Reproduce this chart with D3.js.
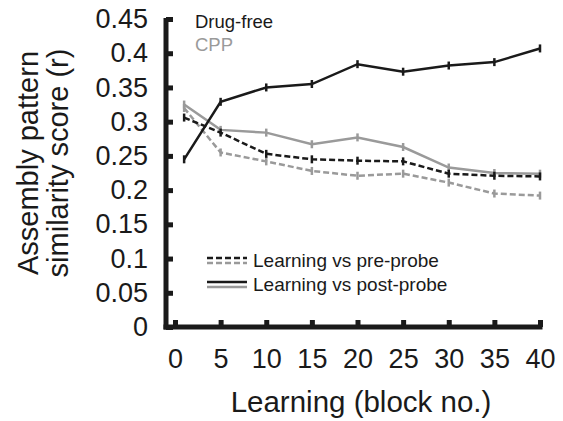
<!DOCTYPE html>
<html>
<head>
<meta charset="utf-8">
<script src="https://cdn.jsdelivr.net/npm/d3@7"></script>
<style>
  body { margin: 0; background: #fff; }
  svg { display: block; font-family: Arial, "Liberation Sans", sans-serif; }
</style>
</head>
<body>
<script>
var width  = 563,
    height = 421;

// data
var blocks = [1, 5, 10, 15, 20, 25, 30, 35, 40];
var drugFreePost = [0.245, 0.329, 0.350, 0.355, 0.384, 0.373, 0.382, 0.387, 0.407];
var drugFreePre  = [0.306, 0.284, 0.253, 0.245, 0.243, 0.242, 0.224, 0.221, 0.220];
var cppPost      = [0.325, 0.288, 0.284, 0.267, 0.277, 0.263, 0.233, 0.225, 0.224];
var cppPre       = [0.320, 0.255, 0.242, 0.228, 0.221, 0.224, 0.211, 0.195, 0.192];
var xTicks = [0, 5, 10, 15, 20, 25, 30, 35, 40];
var yTicks = [0, 0.05, 0.1, 0.15, 0.2, 0.25, 0.3, 0.35, 0.4, 0.45];

var black = '#1a1a1a',
    gray  = '#9a9a9a';

var series = [
  {values: cppPre,       color: gray,  dash: '6,3'},
  {values: cppPost,      color: gray,  dash: null},
  {values: drugFreePre,  color: black, dash: '6,3'},
  {values: drugFreePost, color: black, dash: null}
];

var svg = d3.select('body').append('svg')
    .attr('width', width)
    .attr('height', height);

var x = d3.scaleLinear().domain([0, 40]).range([175, 540]);
var y = d3.scaleLinear().domain([0, 0.45]).range([327, 19]);

// axes, ticks pointing inward
var yAxis = svg.append('g')
    .attr('transform', 'translate(166,0)')
    .call(d3.axisLeft(y).tickValues(yTicks).tickSizeInner(-7).tickSizeOuter(0)
      .tickPadding(18).tickFormat(function(d) { return String(+d.toFixed(2)); }));

var xAxis = svg.append('g')
    .attr('transform', 'translate(0,327)')
    .call(d3.axisBottom(x).tickValues(xTicks).tickSizeInner(-7).tickSizeOuter(0)
      .tickPadding(41));

[yAxis, xAxis].forEach(function(g) {
  g.select('.domain').attr('stroke', black).attr('stroke-width', 5);
  g.selectAll('.tick line').attr('stroke', black).attr('stroke-width', 5);
  g.selectAll('.tick text')
      .attr('fill', black)
      .style('font-size', '27px');
});
yAxis.select('.domain').attr('d', 'M0,' + (y(0.45) - 1) + 'V' + (y(0) + 2.5));
xAxis.select('.domain').attr('d', 'M163.5,0H' + (x(40) + 2.5));
xAxis.selectAll('.tick text').attr('dy', '0');

// lines
var line = d3.line()
    .x(function(d, i) { return x(blocks[i]); })
    .y(function(d) { return y(d); });

series.forEach(function(s) {
  svg.append('path')
      .datum(s.values)
      .attr('d', line)
      .attr('fill', 'none')
      .attr('stroke', s.color)
      .attr('stroke-width', 2.5)
      .attr('stroke-dasharray', s.dash);

  // small error bars at each point
  svg.selectAll(null)
      .data(s.values)
    .enter().append('line')
      .attr('x1', function(d, i) { return x(blocks[i]); })
      .attr('x2', function(d, i) { return x(blocks[i]); })
      .attr('y1', function(d) { return y(d) - 4; })
      .attr('y2', function(d) { return y(d) + 4; })
      .attr('stroke', s.color)
      .attr('stroke-width', 2.5);
});

// group legend
svg.append('text')
    .attr('x', 195).attr('y', 28)
    .attr('fill', black)
    .style('font-size', '18.5px')
    .text('Drug-free');
svg.append('text')
    .attr('x', 195).attr('y', 51)
    .attr('fill', gray)
    .style('font-size', '18.5px')
    .text('CPP');

// line style legend
var legend = [
  {label: 'Learning vs pre-probe',  dash: '6,3', y: 260},
  {label: 'Learning vs post-probe', dash: null,  y: 284}
];
legend.forEach(function(l) {
  [black, gray].forEach(function(c, j) {
    svg.append('line')
        .attr('x1', 207).attr('x2', 247)
        .attr('y1', l.y - 2 + j * 5).attr('y2', l.y - 2 + j * 5)
        .attr('stroke', c)
        .attr('stroke-width', 2.5)
        .attr('stroke-dasharray', l.dash);
  });
  svg.append('text')
      .attr('x', 253).attr('y', l.y + 7)
      .attr('fill', black)
      .style('font-size', '19px')
      .text(l.label);
});

// axis titles
svg.append('text')
    .attr('x', 361).attr('y', 412)
    .attr('text-anchor', 'middle')
    .attr('fill', black)
    .style('font-size', '29.5px')
    .text('Learning (block no.)');

var yTitle = svg.append('text')
    .attr('transform', 'translate(38,163) rotate(-90)')
    .attr('text-anchor', 'middle')
    .attr('fill', black)
    .style('font-size', '29px');
yTitle.append('tspan').attr('x', 0).attr('y', 0).text('Assembly pattern');
yTitle.append('tspan').attr('x', 0).attr('y', 30).text('similarity score (r)');
</script>
</body>
</html>
